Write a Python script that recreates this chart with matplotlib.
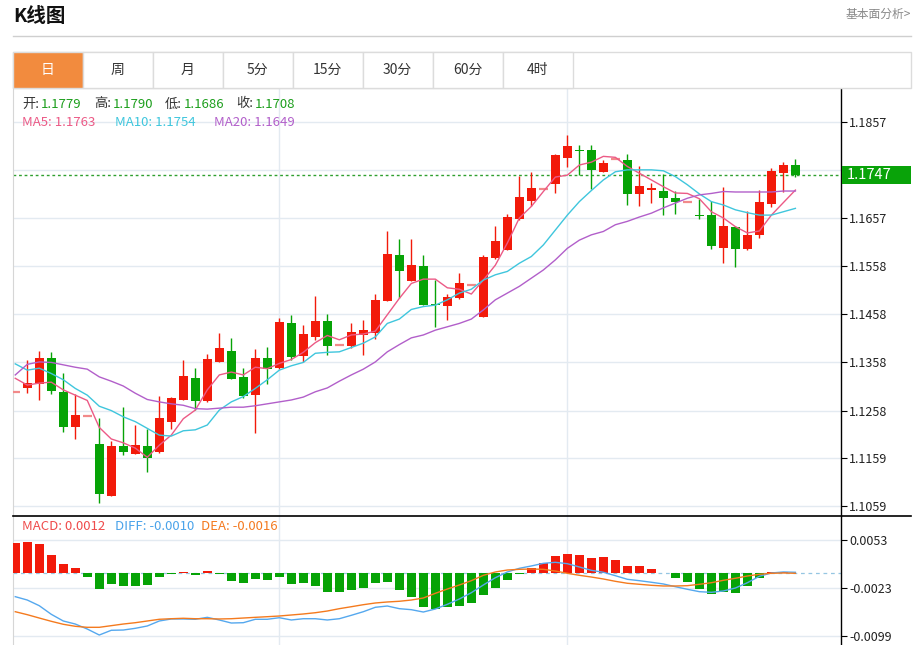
import numpy as np
import matplotlib
matplotlib.use("Agg")
import matplotlib.pyplot as plt
from matplotlib.patches import Rectangle
from matplotlib.lines import Line2D

plt.rcParams['font.family'] = ['Noto Sans CJK SC', 'DejaVu Sans']

# ---- data ----
opens = [1.1297, 1.1305, 1.1313, 1.1368, 1.1297, 1.1224, 1.1247, 1.1188, 1.1081, 1.1184,
         1.1168, 1.1184, 1.1171, 1.1235, 1.1280, 1.1326, 1.1277, 1.1359, 1.1382, 1.1327,
         1.1290, 1.1367, 1.1346, 1.1439, 1.1371, 1.1411, 1.1444, 1.1394, 1.1392, 1.1415,
         1.1420, 1.1486, 1.1581, 1.1527, 1.1558, 1.1480, 1.1476, 1.1491, 1.1519, 1.1453,
         1.1574, 1.1592, 1.1655, 1.1694, 1.1718, 1.1728, 1.1782, 1.1800, 1.1799, 1.1754,
         1.1780, 1.1779, 1.1708, 1.1717, 1.1715, 1.1700, 1.1691, 1.1665, 1.1664, 1.1596,
         1.1640, 1.1593, 1.1622, 1.1688, 1.1752, 1.1768]
highs = [1.1297, 1.1364, 1.1382, 1.1379, 1.1337, 1.1292, 1.1247, 1.1243, 1.1195, 1.1266,
         1.1228, 1.1220, 1.1289, 1.1287, 1.1363, 1.1346, 1.1376, 1.1420, 1.1408, 1.1346,
         1.1385, 1.1391, 1.1451, 1.1457, 1.1436, 1.1496, 1.1458, 1.1394, 1.1439, 1.1446,
         1.1500, 1.1632, 1.1615, 1.1615, 1.1581, 1.1529, 1.1500, 1.1544, 1.1519, 1.1581,
         1.1641, 1.1666, 1.1746, 1.1753, 1.1718, 1.1791, 1.1831, 1.1810, 1.1810, 1.1778,
         1.1780, 1.1790, 1.1766, 1.1730, 1.1750, 1.1714, 1.1691, 1.1697, 1.1693, 1.1722,
         1.1641, 1.1673, 1.1716, 1.1762, 1.1775, 1.1781]
lows = [1.1297, 1.1295, 1.1280, 1.1292, 1.1213, 1.1198, 1.1247, 1.1066, 1.1080, 1.1166,
        1.1167, 1.1131, 1.1170, 1.1219, 1.1279, 1.1259, 1.1276, 1.1358, 1.1323, 1.1285,
        1.1211, 1.1313, 1.1345, 1.1363, 1.1359, 1.1405, 1.1373, 1.1394, 1.1387, 1.1373,
        1.1406, 1.1485, 1.1491, 1.1527, 1.1477, 1.1432, 1.1446, 1.1490, 1.1519, 1.1452,
        1.1573, 1.1591, 1.1654, 1.1682, 1.1718, 1.1709, 1.1763, 1.1747, 1.1718, 1.1753,
        1.1780, 1.1686, 1.1683, 1.1690, 1.1664, 1.1666, 1.1691, 1.1655, 1.1594, 1.1564,
        1.1557, 1.1592, 1.1616, 1.1680, 1.1711, 1.1744]
closes = [1.1297, 1.1315, 1.1367, 1.1299, 1.1224, 1.1248, 1.1247, 1.1085, 1.1185, 1.1172,
          1.1186, 1.1159, 1.1242, 1.1284, 1.1330, 1.1278, 1.1365, 1.1387, 1.1324, 1.1288,
          1.1367, 1.1344, 1.1441, 1.1369, 1.1417, 1.1445, 1.1392, 1.1394, 1.1421, 1.1425,
          1.1488, 1.1583, 1.1547, 1.1560, 1.1477, 1.1478, 1.1494, 1.1522, 1.1519, 1.1577,
          1.1610, 1.1660, 1.1701, 1.1720, 1.1718, 1.1788, 1.1808, 1.1798, 1.1757, 1.1772,
          1.1780, 1.1708, 1.1725, 1.1721, 1.1699, 1.1691, 1.1691, 1.1663, 1.1599, 1.1641,
          1.1594, 1.1622, 1.1692, 1.1755, 1.1768, 1.1747]

ma5 = [1.1325, 1.1311, 1.1315, 1.1317, 1.1301, 1.1290, 1.1279, 1.1223, 1.1199, 1.1191,
       1.1180, 1.1161, 1.1186, 1.1207, 1.1241, 1.1259, 1.1301, 1.1332, 1.1338, 1.1332,
       1.1348, 1.1345, 1.1356, 1.1364, 1.1379, 1.1399, 1.1414, 1.1405, 1.1415, 1.1417,
       1.1423, 1.1457, 1.1491, 1.1522, 1.1531, 1.1531, 1.1513, 1.1510, 1.1500, 1.1529,
       1.1560, 1.1606, 1.1658, 1.1682, 1.1713, 1.1743, 1.1747, 1.1768, 1.1774, 1.1786,
       1.1784, 1.1765, 1.1751, 1.1737, 1.1723, 1.1710, 1.1709, 1.1698, 1.1671, 1.1658,
       1.1640, 1.1627, 1.1631, 1.1664, 1.1690, 1.1716]
ma10 = [1.1355, 1.1342, 1.1346, 1.1335, 1.1322, 1.1304, 1.1290, 1.1267, 1.1258, 1.1245,
        1.1235, 1.1221, 1.1207, 1.1205, 1.1216, 1.1218, 1.1228, 1.1259, 1.1276, 1.1287,
        1.1304, 1.1322, 1.1342, 1.1351, 1.1358, 1.1377, 1.1379, 1.1380, 1.1389, 1.1398,
        1.1411, 1.1439, 1.1448, 1.1468, 1.1474, 1.1477, 1.1488, 1.1502, 1.1510, 1.1529,
        1.1540, 1.1547, 1.1564, 1.1578, 1.1602, 1.1633, 1.1664, 1.1692, 1.1715, 1.1737,
        1.1754, 1.1758, 1.1758, 1.1758, 1.1756, 1.1744, 1.1727, 1.1708, 1.1692, 1.1685,
        1.1675, 1.1669, 1.1664, 1.1664, 1.1671, 1.1678]
ma20 = [1.1332, 1.1354, 1.1359, 1.1358, 1.1353, 1.1348, 1.1344, 1.1328, 1.1319, 1.1309,
        1.1294, 1.1281, 1.1276, 1.1272, 1.1269, 1.1262, 1.1261, 1.1263, 1.1265, 1.1265,
        1.1268, 1.1272, 1.1276, 1.1280, 1.1286, 1.1297, 1.1305, 1.1319, 1.1332, 1.1344,
        1.1359, 1.1380, 1.1395, 1.1409, 1.1415, 1.1425, 1.1432, 1.1439, 1.1448, 1.1467,
        1.1488, 1.1502, 1.1516, 1.1533, 1.1550, 1.1571, 1.1595, 1.1612, 1.1623, 1.1630,
        1.1644, 1.1651, 1.1660, 1.1668, 1.1679, 1.1689, 1.1699, 1.1706, 1.1709, 1.1713,
        1.1712, 1.1712, 1.1712, 1.1712, 1.1714, 1.1714]

macd = [0.00484, 0.00500, 0.00469, 0.00290, 0.00152, 0.00079, -0.00059, -0.00249, -0.00169, -0.00206,
        -0.00206, -0.00185, -0.00063, -0.00011, 0.00025, -0.00022, 0.00041, -0.00016, -0.00127, -0.00154,
        -0.00085, -0.00106, -0.00059, -0.00165, -0.00149, -0.00196, -0.00296, -0.00301, -0.00269, -0.00237,
        -0.00154, -0.00133, -0.00269, -0.00375, -0.00533, -0.00565, -0.00529, -0.00513, -0.00465, -0.00344,
        -0.00237, -0.00111, -0.00006, 0.00079, 0.00158, 0.00274, 0.00306, 0.00285, 0.00247, 0.00253,
        0.00211, 0.00120, 0.00116, 0.00068, 0.00000, -0.00070, -0.00142, -0.00249, -0.00332, -0.00301,
        -0.00307, -0.00196, -0.00070, 0.00021, 0.00016, 0.00005]
diff = [-0.00370, -0.00423, -0.00513, -0.00649, -0.00755, -0.00803, -0.00882, -0.00977, -0.00902, -0.00898,
        -0.00871, -0.00834, -0.00755, -0.00723, -0.00723, -0.00728, -0.00697, -0.00739, -0.00787, -0.00782,
        -0.00728, -0.00728, -0.00703, -0.00739, -0.00719, -0.00719, -0.00739, -0.00719, -0.00665, -0.00608,
        -0.00538, -0.00518, -0.00560, -0.00576, -0.00613, -0.00565, -0.00491, -0.00407, -0.00307, -0.00185,
        -0.00070, 0.00021, 0.00079, 0.00116, 0.00158, 0.00174, 0.00152, 0.00100, 0.00047, 0.00016,
        -0.00038, -0.00095, -0.00117, -0.00142, -0.00169, -0.00212, -0.00253, -0.00291, -0.00301, -0.00280,
        -0.00233, -0.00149, -0.00047, 0.00005, 0.00021, 0.00016]
dea = [-0.00608, -0.00655, -0.00708, -0.00760, -0.00807, -0.00839, -0.00855, -0.00855, -0.00829, -0.00803,
       -0.00782, -0.00755, -0.00728, -0.00719, -0.00712, -0.00719, -0.00719, -0.00723, -0.00719, -0.00708,
       -0.00697, -0.00687, -0.00676, -0.00660, -0.00644, -0.00624, -0.00597, -0.00560, -0.00529, -0.00497,
       -0.00470, -0.00454, -0.00443, -0.00423, -0.00391, -0.00317, -0.00249, -0.00185, -0.00117, -0.00032,
       0.00021, 0.00052, 0.00063, 0.00068, 0.00063, 0.00036, 0.00000, -0.00032, -0.00059, -0.00090,
       -0.00127, -0.00158, -0.00174, -0.00190, -0.00201, -0.00201, -0.00196, -0.00174, -0.00149, -0.00111,
       -0.00079, -0.00043, -0.00016, 0.00000, 0.00005, 0.00000]

price_ticks = [1.1857, 1.1757, 1.1657, 1.1558, 1.1458, 1.1358, 1.1258, 1.1159, 1.1059]
macd_ticks = [0.0053, -0.0023, -0.0099]
period_marks = [22, 46]
last_price = 1.1747
tabs = ['日', '周', '月', '5分', '15分', '30分', '60分', '4时']

RED = '#f21a0a'
GREEN = '#06a306'
DOJI = '#f28a8a'
C_MA5 = '#ec5a86'
C_MA10 = '#3fc6dd'
C_MA20 = '#b25fca'
C_DIFF = '#55a8ee'
C_DEA = '#f47a1e'
GRID = '#e3eaf1'

W, H = 916, 645
fig = plt.figure(figsize=(W / 100, H / 100), dpi=100)


def fx(x):
    return x / W


def fy(y):
    return 1 - y / H


# ---- header ----
fig.text(fx(13), fy(16), 'K线图', fontsize=14, fontweight='bold', va='center', color='#111')
fig.text(fx(911), fy(14), '基本面分析>', fontsize=8.5, ha='right', va='center', color='#888')
fig.add_artist(Line2D([fx(13), fx(911)], [fy(35.5), fy(35.5)], color='#cfcfcf', lw=1))

# tab row
fig.add_artist(Rectangle((fx(12.5), fy(87.5)), fx(911) - fx(12.5), fy(52) - fy(87.5),
                         transform=fig.transFigure, facecolor='white', edgecolor='#dcdcdc', lw=1))
for k, t in enumerate(tabs):
    x0 = 12.5 + 70 * k
    active = k == 0
    fig.add_artist(Rectangle((fx(x0), fy(87.5)), fx(70), fy(52) - fy(87.5), transform=fig.transFigure,
                             facecolor='#f28b3e' if active else 'white', edgecolor='#dcdcdc', lw=1))
    fig.text(fx(x0 + 35), fy(70), t, fontsize=10, ha='center', va='center',
             color='white' if active else '#333')

# ---- axes ----
ax = fig.add_axes([fx(12.5), fy(516), fx(841) - fx(12.5), fy(88) - fy(516)])
ax2 = fig.add_axes([fx(12.5), fy(645), fx(841) - fx(12.5), fy(516) - fy(645)])

idx = np.arange(len(opens))
o = np.array(opens)
c = np.array(closes)
hi = np.array(highs)
lo = np.array(lows)

cols = np.where(c > o, RED, np.where(c < o, GREEN, DOJI))
flat = c == o

ax.vlines(idx[~flat], lo[~flat], hi[~flat], colors=cols[~flat], lw=1, zorder=3)
ax.bar(idx[~flat], np.abs(c - o)[~flat], bottom=np.minimum(o, c)[~flat], width=0.75,
       color=cols[~flat], linewidth=0, zorder=4)
ax.hlines(c[flat], idx[flat] - 0.375, idx[flat] + 0.375, colors=DOJI, lw=1.6, zorder=4)

ax.plot(idx, ma5, color=C_MA5, lw=1, zorder=5)
ax.plot(idx, ma10, color=C_MA10, lw=1, zorder=5)
ax.plot(idx, ma20, color=C_MA20, lw=1, zorder=5)

ax.axhline(last_price, color='#2f9f2f', ls=(0, (2, 2)), lw=1, zorder=2)

ax.set_xlim(-0.23, 68.8)
ax.set_ylim(1.1039, 1.1928)
ax.set_yticks(price_ticks)
ax.set_yticklabels([f'{v:.4f}' for v in price_ticks])

ax2.bar(idx, macd, width=0.75, color=[RED if v > 0 else GREEN for v in macd], linewidth=0, zorder=3)
ax2.plot(idx, diff, color=C_DIFF, lw=1, zorder=4)
ax2.plot(idx, dea, color=C_DEA, lw=1, zorder=4)
ax2.axhline(0, color='#95c6e2', ls=(0, (3, 3)), lw=0.9, zorder=2)
ax2.set_xlim(-0.23, 68.8)
ax2.set_ylim(-0.01135, 0.00907)
ax2.set_yticks(macd_ticks)
ax2.set_yticklabels([f'{v:.4f}' for v in macd_ticks])

for a in (ax, ax2):
    a.set_xticks([])
    a.yaxis.tick_right()
    a.tick_params(axis='y', direction='out', length=4, width=0.8, colors='black',
                  labelsize=9, pad=2, labelcolor='#222')
    a.grid(axis='y', color=GRID, lw=1, zorder=0)
    for m in period_marks:
        a.axvline(m, color=GRID, lw=1, zorder=0)
    a.spines['right'].set_color('black')
    a.spines['right'].set_linewidth(1)
    a.spines['left'].set_color('#d6d6d6')
    a.spines['bottom'].set_visible(False)
    a.spines['top'].set_visible(False)

# divider line between panels
fig.add_artist(Line2D([fx(12.5), fx(911)], [fy(516), fy(516)], color='black', lw=1.2))

# current price tag (covers the 1.1757 tick label, as in the original)
fig.add_artist(Rectangle((fx(842), fy(184)), fx(911) - fx(842), fy(166) - fy(184),
                         transform=fig.transFigure, facecolor='#09a309', edgecolor='none'))
fig.text(fx(847), fy(175), f'{last_price:.4f}', fontsize=10.5, color='white', va='center')

# info lines
info = [('开:', '1.1779', 22), ('高:', '1.1790', 94), ('低:', '1.1686', 165), ('收:', '1.1708', 236)]
for lab, val, x in info:
    fig.text(fx(x), fy(104), lab, fontsize=9.5, color='#333', va='center')
    fig.text(fx(x + 19), fy(104), val, fontsize=9.5, color='#1c9e1c', va='center')

for txt, col, x in [('MA5: 1.1763', C_MA5, 22), ('MA10: 1.1754', C_MA10, 115),
                    ('MA20: 1.1649', C_MA20, 214)]:
    fig.text(fx(x), fy(122), txt, fontsize=9.5, color=col, va='center')

for txt, col, x in [('MACD: 0.0012', '#ef4b4b', 22), ('DIFF: -0.0010', '#4aa3ea', 115),
                    ('DEA: -0.0016', '#f47a20', 201)]:
    fig.text(fx(x), fy(527), txt, fontsize=9.5, color=col, va='center')

fig.savefig('out.png', dpi=100)
